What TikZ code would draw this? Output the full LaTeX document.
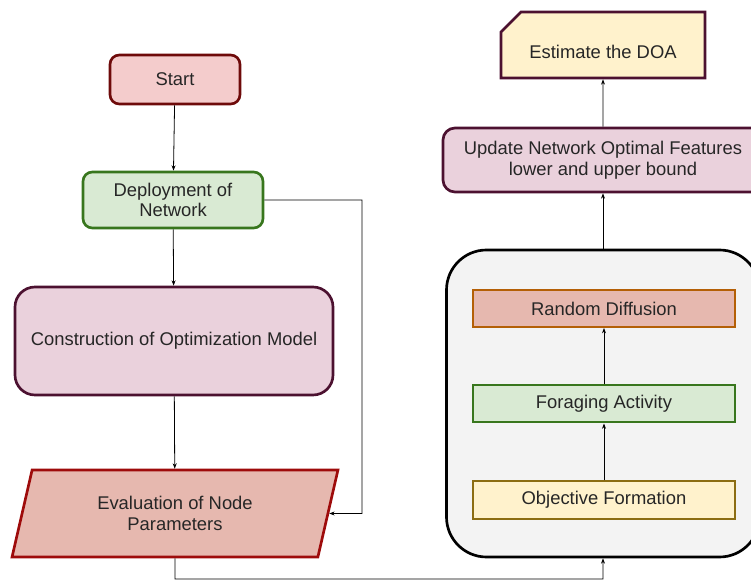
\documentclass[tikz,border=0pt]{standalone}
\usepackage{fontspec}
\setmainfont{Liberation Sans}
\usetikzlibrary{arrows.meta,shapes.geometric,shapes.misc}

\definecolor{pinkfill}{HTML}{F4CCCC}
\definecolor{pinkline}{HTML}{6E0A0A}
\definecolor{greenfill}{HTML}{D9EAD3}
\definecolor{greenline}{HTML}{38761D}
\definecolor{plumfill}{HTML}{EAD1DC}
\definecolor{plumline}{HTML}{4C1130}
\definecolor{redfill}{HTML}{E6B8AF}
\definecolor{redline}{HTML}{9E0B0B}
\definecolor{orangeline}{HTML}{B45F06}
\definecolor{creamfill}{HTML}{FFF2CC}
\definecolor{oliveline}{HTML}{8C6D12}
\definecolor{greyfill}{HTML}{F3F3F3}

\tikzset{
  every node/.style={font=\fontsize{13.8}{15.5}\selectfont, text=black!85, align=center},
  flow/.style={-{Stealth[length=4pt,width=3pt]}, black, line width=0.6pt},
  startbox/.style={draw=pinkline, fill=pinkfill, line width=2pt, rounded corners=7pt,
    minimum width=97.5pt, minimum height=36.75pt},
  deploybox/.style={draw=greenline, fill=greenfill, line width=2pt, rounded corners=7pt,
    minimum width=135pt, minimum height=42pt},
  modelbox/.style={draw=plumline, fill=plumfill, line width=2pt, rounded corners=15pt,
    minimum width=238.5pt, minimum height=81pt},
  evalbox/.style={trapezium, trapezium left angle=75, trapezium right angle=105,
    trapezium stretches=true, draw=redline, fill=redfill, line width=2pt,
    minimum width=244.5pt, minimum height=65.25pt},
  container/.style={draw=black, fill=greyfill, line width=2pt, rounded corners=30pt,
    minimum width=234.75pt, minimum height=230.25pt},
  innerbox/.style={line width=1.5pt, minimum width=196.5pt, minimum height=27.75pt},
  updatebox/.style={draw=plumline, fill=plumfill, line width=2pt, rounded corners=9pt,
    minimum width=240pt, minimum height=48pt},
  doabox/.style={chamfered rectangle, chamfered rectangle corners=north west,
    chamfered rectangle xsep=33pt, chamfered rectangle ysep=10pt,
    draw=plumline, fill=creamfill, line width=2pt, inner sep=0pt,
    minimum width=153pt, minimum height=49.5pt},
}

\begin{document}
\begin{tikzpicture}[x=0.75pt, y=-0.75pt]
    \useasboundingbox (0,0) rectangle (751,581);

    % Left column
    \node[startbox]  (start)  at (175,79.5)  {Start};
    \node[deploybox] (deploy) at (173,200)   {Deployment of\\Network};
    \node[modelbox]  (model)  at (174,341)   {Construction of Optimization Model};
    \node[evalbox]   (eval)   at (175,513.5) {Evaluation of Node\\Parameters};

    % Right column
    \node[container] (box) at (603,403.5) {};
    \node[innerbox, draw=orangeline, fill=redfill]    (diffuse) at (604,308.5) {Random Diffusion};
    \node[innerbox, draw=greenline, fill=greenfill]   (forage)  at (604,404)   {Foraging Activity};
    \node[innerbox, draw=oliveline, fill=creamfill]   (objective) at (604,500) {Objective Formation};
    \node[updatebox] (update) at (603,160) {Update Network Optimal Features\\lower and upper bound};
    \node[doabox]    (doa)    at (603,45)  {\raisebox{-5.25pt}[\height][\depth]{Estimate the DOA}};

    % Connectors
    \coordinate (loopR) at (362,513.5);
    \coordinate (bottom) at (175,579);
    \draw[flow] (start) -- (deploy);
    \draw[flow] (deploy) -- (model);
    \draw[flow] (model) -- (eval);
    \draw[flow] (deploy.east) -| (loopR) -- (eval.east);
    \draw[flow] (eval.south) -- (bottom) -| (box.south);
    \draw[flow] (objective) -- (forage);
    \draw[flow] (forage) -- (diffuse);
    \draw[flow] (box.north) -- (update.south);
    \draw[flow] (update) -- (doa);
\end{tikzpicture}
\end{document}
